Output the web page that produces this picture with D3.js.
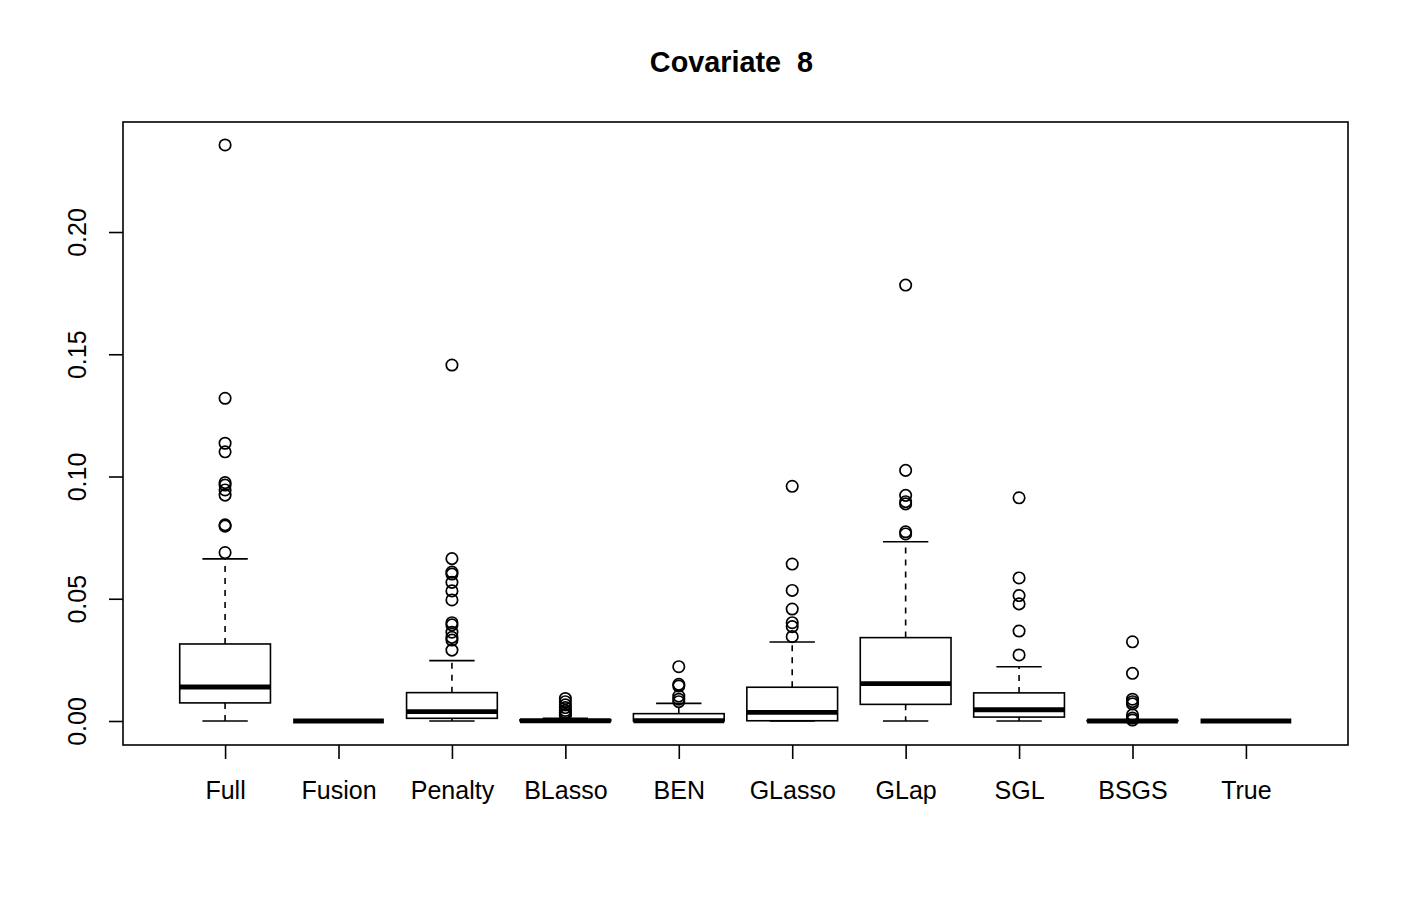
<!DOCTYPE html>
<html>
<head>
<meta charset="utf-8">
<script src="https://cdn.jsdelivr.net/npm/d3@7"></script>
<style>
  body { margin: 0; background: #fff; }
  text { font-family: "Liberation Sans", Arial, sans-serif; }
</style>
</head>
<body>
<div id="chart"></div>
<script>
// methods on the x axis
var methods = ["Full", "Fusion", "Penalty", "BLasso", "BEN", "GLasso", "GLap", "SGL", "BSGS", "True"];

// five-number summaries
var lowWhisker = [0, 0, 0, 0, 0, 0, 0, 0, 0, 0];
var q1 = [0.0074, 0, 0.0011, 0, 0, 0.0001, 0.0068, 0.0016, 0, 0];
var medians = [0.0139, 0, 0.0038, 0.0001, 0.0001, 0.0035, 0.0153, 0.0046, 0, 0];
var q3 = [0.0315, 0, 0.0116, 0.0005, 0.0030, 0.0138, 0.0341, 0.0115, 0.0002, 0];
var highWhisker = [0.0663, 0, 0.0247, 0.0011, 0.0072, 0.0323, 0.0733, 0.0222, 0.0004, 0];

// outliers per method
var outliers = [
  [0.2356, 0.1320, 0.1136, 0.1101, 0.0975, 0.0965, 0.0945, 0.0924, 0.0802, 0.0797, 0.0689],
  [],
  [0.1456, 0.0664, 0.0609, 0.0601, 0.0567, 0.0532, 0.0495, 0.0402, 0.0393, 0.0363, 0.0342, 0.0331, 0.0290],
  [0.0092, 0.0079, 0.0066, 0.0055, 0.0043, 0.0035, 0.0027, 0.0022],
  [0.0222, 0.0150, 0.0143, 0.0102, 0.0089, 0.0079],
  [0.0960, 0.0642, 0.0534, 0.0458, 0.0402, 0.0386, 0.0345],
  [0.1783, 0.1025, 0.0923, 0.0897, 0.0888, 0.0774, 0.0765],
  [0.0913, 0.0585, 0.0513, 0.0479, 0.0368, 0.0270],
  [0.0324, 0.0195, 0.0089, 0.0079, 0.0070, 0.0025, 0.0012, 0.0004],
  []
];

var yTicks = [0, 0.05, 0.10, 0.15, 0.20];

var width = 1411, height = 898;
var plot = { left: 123, right: 1348, top: 122, bottom: 745 };

var svg = d3.select("#chart")
  .append("svg")
  .attr("width", width)
  .attr("height", height);

var x = d3.scaleLinear()
  .domain([0.1, methods.length + 0.9])
  .range([plot.left, plot.right]);

var y = d3.scaleLinear()
  .domain([-0.00982, 0.245])
  .range([plot.bottom, plot.top]);

var boxW = x(0.8) - x(0);
var capW = boxW / 2;

// title
svg.append("text")
  .attr("x", (plot.left + plot.right) / 2 - 4)
  .attr("y", 72)
  .attr("text-anchor", "middle")
  .style("font-size", "28.8px")
  .style("font-weight", "bold")
  .style("white-space", "pre")
  .text("Covariate  8");

var g = svg.append("g");

methods.forEach(function (m, i) {
  var cx = x(i + 1);

  // whiskers
  g.append("line")
    .attr("x1", cx).attr("x2", cx)
    .attr("y1", y(q3[i])).attr("y2", y(highWhisker[i]))
    .attr("stroke", "#000").attr("stroke-width", 1.6)
    .attr("stroke-dasharray", "6,6");
  g.append("line")
    .attr("x1", cx).attr("x2", cx)
    .attr("y1", y(q1[i])).attr("y2", y(lowWhisker[i]))
    .attr("stroke", "#000").attr("stroke-width", 1.6)
    .attr("stroke-dasharray", "6,6");

  // caps
  [lowWhisker[i], highWhisker[i]].forEach(function (v) {
    g.append("line")
      .attr("x1", cx - capW / 2).attr("x2", cx + capW / 2)
      .attr("y1", y(v)).attr("y2", y(v))
      .attr("stroke", "#000").attr("stroke-width", 1.6);
  });

  // box
  g.append("rect")
    .attr("x", cx - boxW / 2)
    .attr("y", y(q3[i]))
    .attr("width", boxW)
    .attr("height", Math.max(0, y(q1[i]) - y(q3[i])))
    .attr("fill", "#fff")
    .attr("stroke", "#000")
    .attr("stroke-width", 1.6);

  // median
  g.append("line")
    .attr("x1", cx - boxW / 2).attr("x2", cx + boxW / 2)
    .attr("y1", y(medians[i])).attr("y2", y(medians[i]))
    .attr("stroke", "#000").attr("stroke-width", 4.8);

  // outliers
  g.selectAll(null)
    .data(outliers[i])
    .enter()
    .append("circle")
    .attr("cx", cx)
    .attr("cy", function (d) { return y(d); })
    .attr("r", 5.7)
    .attr("fill", "none")
    .attr("stroke", "#000")
    .attr("stroke-width", 1.7);
});

// frame
svg.append("rect")
  .attr("x", plot.left).attr("y", plot.top)
  .attr("width", plot.right - plot.left)
  .attr("height", plot.bottom - plot.top)
  .attr("fill", "none")
  .attr("stroke", "#000")
  .attr("stroke-width", 1.6);

// x axis (ticks only, no line, like R's boxplot)
var xAxis = svg.append("g")
  .attr("transform", "translate(0," + plot.bottom + ")")
  .call(d3.axisBottom(x)
    .tickValues(d3.range(1, methods.length + 1))
    .tickFormat(function (d) { return methods[d - 1]; })
    .tickSize(14)
    .tickPadding(22));
xAxis.select(".domain").remove();
xAxis.selectAll("line").attr("stroke-width", 1.6);
xAxis.selectAll("text")
  .attr("fill", "#000")
  .style("font-size", "25px")
  .style("font-family", "'Liberation Sans', Arial, sans-serif");

// y axis
var yAxis = svg.append("g")
  .attr("transform", "translate(" + plot.left + ",0)")
  .call(d3.axisLeft(y)
    .tickValues(yTicks)
    .tickFormat(d3.format(".2f"))
    .tickSize(14)
    .tickPadding(0));
yAxis.select(".domain").remove();
yAxis.selectAll("line").attr("stroke-width", 1.6);
yAxis.selectAll("text")
  .attr("fill", "#000")
  .attr("x", null)
  .attr("dy", null)
  .attr("text-anchor", "middle")
  .attr("transform", "translate(-37,0) rotate(-90)")
  .style("font-size", "25px")
  .style("font-family", "'Liberation Sans', Arial, sans-serif");
</script>
</body>
</html>
